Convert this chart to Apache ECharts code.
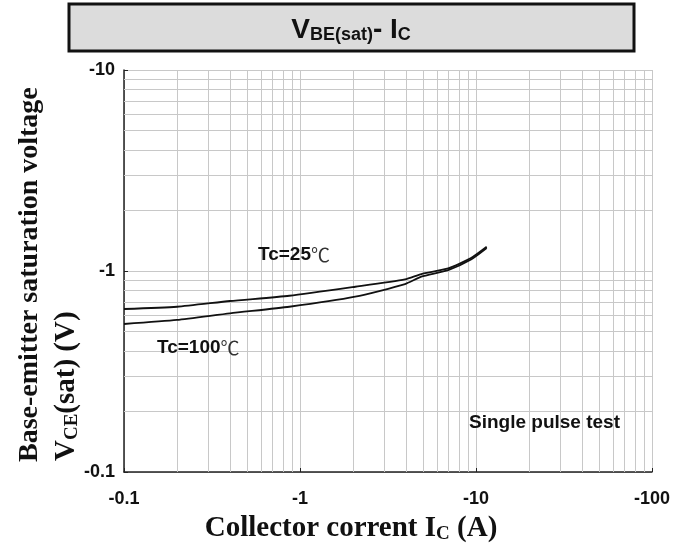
<!DOCTYPE html>
<html>
<head>
<meta charset="UTF-8"/>
<title>VBE(sat) - IC</title>
<script type="text/javascript" src="https://cdn.jsdelivr.net/npm/echarts@6/dist/echarts.min.js"></script>
<style>
    html, body { margin: 0; padding: 0; background: #fff; }
    #chart { width: 688px; height: 543px; }
</style>
</head>
<body>
<div id="chart"></div>
<script type="text/javascript">
    // collector current |Ic| (A)
    var icList = [0.1, 0.2, 0.4, 0.87, 2.06, 3.95, 4.89, 6.95, 9.37, 11.5];
    // |VBE(sat)| (V)
    var vbe25List = [0.647, 0.664, 0.709, 0.753, 0.835, 0.909, 0.966, 1.03, 1.16, 1.32];
    var vbe100List = [0.545, 0.571, 0.616, 0.664, 0.745, 0.861, 0.937, 1.01, 1.14, 1.30];
    // minor grid values (log paper)
    var minorX = [0.2, 0.3, 0.4, 0.5, 0.6, 0.7, 0.8, 0.9, 2, 3, 4, 5, 6, 7, 8, 9, 20, 30, 40, 50, 60, 70, 80, 90];
    var minorY = [0.2, 0.3, 0.4, 0.5, 0.6, 0.7, 0.8, 0.9, 2, 3, 4, 5, 6, 7, 8, 9];

    var pairs = function (xs, ys) {
        var out = [];
        for (var i = 0; i < xs.length; i++) {
            out.push([xs[i], ys[i]]);
        }
        return out;
    };

    var gridColor = '#c8c8c8';
    var sans = '"Liberation Sans", Arial, sans-serif';
    var serif = '"Liberation Serif", "Times New Roman", serif';
    var labelFont = { fontFamily: sans, fontWeight: 'bold', fontSize: 18, color: '#111' };

    var chart = echarts.init(document.getElementById('chart'));
    chart.setOption({
        animation: false,
        backgroundColor: '#fff',
        grid: { left: 124, right: 36, top: 70, bottom: 71 },
        xAxis: {
            type: 'log',
            logBase: 10,
            min: 0.1,
            max: 100,
            axisLine: { show: true, lineStyle: { color: '#222', width: 1.5 } },
            axisTick: { show: true, inside: true, length: 4, lineStyle: { color: '#222' } },
            axisLabel: Object.assign({ margin: 18, formatter: function (v) { return '-' + v; } }, labelFont),
            splitLine: { show: true, lineStyle: { color: gridColor, width: 1 } }
        },
        yAxis: {
            type: 'log',
            logBase: 10,
            min: 0.1,
            max: 10,
            axisLine: { show: true, lineStyle: { color: '#222', width: 1.5 } },
            axisTick: { show: true, inside: true, length: 4, lineStyle: { color: '#222' } },
            axisLabel: Object.assign({ margin: 9, formatter: function (v) { return '-' + v; } }, labelFont),
            splitLine: { show: true, lineStyle: { color: gridColor, width: 1 } }
        },
        series: [
            {
                name: 'grid',
                type: 'line',
                data: [],
                silent: true,
                z: 1,
                markLine: {
                    silent: true,
                    symbol: ['none', 'none'],
                    label: { show: false },
                    lineStyle: { color: gridColor, width: 1, type: 'solid' },
                    emphasis: { disabled: true },
                    data: minorX.map(function (v) { return { xAxis: v }; })
                        .concat(minorY.map(function (v) { return { yAxis: v }; }))
                }
            },
            {
                name: 'Tc=25',
                type: 'line',
                z: 5,
                showSymbol: false,
                smooth: 0.2,
                lineStyle: { color: '#111', width: 1.8 },
                data: pairs(icList, vbe25List)
            },
            {
                name: 'Tc=100',
                type: 'line',
                z: 5,
                showSymbol: false,
                smooth: 0.2,
                lineStyle: { color: '#111', width: 1.8 },
                data: pairs(icList, vbe100List)
            }
        ],
        graphic: [
            {
                type: 'rect',
                z: 100,
                shape: { x: 69, y: 4, width: 565, height: 47 },
                style: { fill: '#dcdcdc', stroke: '#111', lineWidth: 3 }
            },
            {
                type: 'text',
                z: 101,
                x: 351, y: 28,
                style: {
                    text: '{b|V}{s|BE(sat)}{b|- I}{s|C}',
                    align: 'center', verticalAlign: 'middle',
                    rich: {
                        b: { fontFamily: sans, fontWeight: 'bold', fontSize: 28, fill: '#111', verticalAlign: 'bottom', lineHeight: 32 },
                        s: { fontFamily: sans, fontWeight: 'bold', fontSize: 18, fill: '#111', verticalAlign: 'bottom', lineHeight: 25 }
                    }
                }
            },
            {
                type: 'text',
                z: 100,
                x: 30, y: 462,
                rotation: Math.PI / 2,
                style: {
                    text: 'Base-emitter saturation voltage',
                    align: 'left', verticalAlign: 'middle',
                    font: 'bold 28px ' + serif,
                    fill: '#111'
                }
            },
            {
                type: 'text',
                z: 100,
                x: 65, y: 461,
                rotation: Math.PI / 2,
                style: {
                    text: '{b|V}{s|CE}{b|(sat) (V)}',
                    align: 'left', verticalAlign: 'middle',
                    rich: {
                        b: { font: 'bold 29px ' + serif, fill: '#111', verticalAlign: 'bottom', lineHeight: 33 },
                        s: { font: 'bold 19px ' + serif, fill: '#111', verticalAlign: 'bottom', lineHeight: 27 }
                    }
                }
            },
            {
                type: 'text',
                z: 100,
                x: 351, y: 527,
                style: {
                    text: '{b|Collector corrent I}{s|C}{b| (A)}',
                    align: 'center', verticalAlign: 'middle',
                    rich: {
                        b: { font: 'bold 29px ' + serif, fill: '#111', verticalAlign: 'bottom', lineHeight: 33 },
                        s: { font: 'bold 19px ' + serif, fill: '#111', verticalAlign: 'bottom', lineHeight: 27 }
                    }
                }
            },
            {
                type: 'text',
                z: 100,
                x: 258, y: 255,
                style: {
                    text: '{b|Tc=25}{c|℃}',
                    align: 'left', verticalAlign: 'middle',
                    rich: {
                        b: { font: 'bold 19px ' + sans, fill: '#111' },
                        c: { font: '19px "Noto Sans CJK SC", sans-serif', fill: '#333' }
                    }
                }
            },
            {
                type: 'text',
                z: 100,
                x: 157, y: 348,
                style: {
                    text: '{b|Tc=100}{c|℃}',
                    align: 'left', verticalAlign: 'middle',
                    rich: {
                        b: { font: 'bold 19px ' + sans, fill: '#111' },
                        c: { font: '19px "Noto Sans CJK SC", sans-serif', fill: '#333' }
                    }
                }
            },
            {
                type: 'text',
                z: 100,
                x: 469, y: 423,
                style: {
                    text: 'Single pulse test',
                    align: 'left', verticalAlign: 'middle',
                    font: 'bold 19px ' + sans,
                    fill: '#111'
                }
            }
        ]
    });
</script>
</body>
</html>
